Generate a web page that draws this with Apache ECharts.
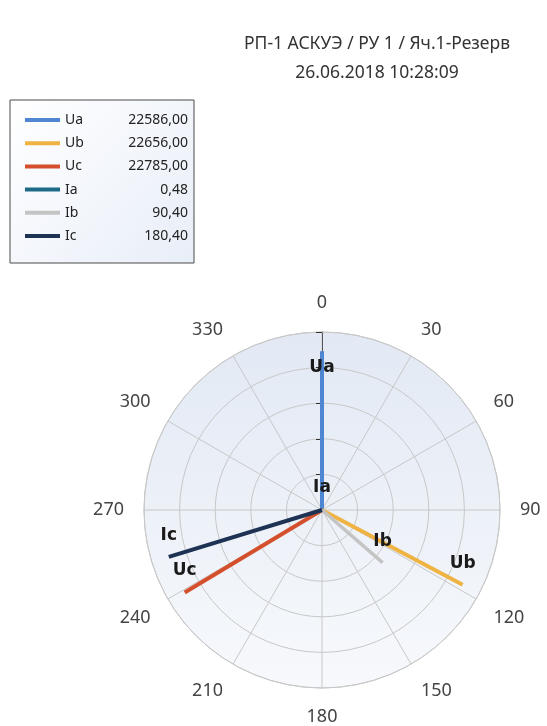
<!DOCTYPE html>
<html>
<head>
<meta charset="utf-8">
<script src="https://cdn.jsdelivr.net/npm/echarts@6/dist/echarts.min.js"></script>
<style>html,body{margin:0;padding:0;background:#fff;}#c{width:547px;height:726px;}</style>
</head>
<body>
<div id="c"></div>
<script>
// ---- data ----
var titleLines = ['РП-1 АСКУЭ / РУ 1 / Яч.1-Резерв', '26.06.2018 10:28:09'];
var names = ['Ua', 'Ub', 'Uc', 'Ia', 'Ib', 'Ic'];
var magnitudes = [22586.00, 22656.00, 22785.00, 0.48, 90.40, 180.40];
var valueLabels = ['22586,00', '22656,00', '22785,00', '0,48', '90,40', '180,40'];
var anglesDeg = [0, 118, 239, 0, 131, 253];
var isVoltage = [true, true, true, false, false, false];
var angleTicks = [0, 30, 60, 90, 120, 150, 180, 210, 240, 270, 300, 330];
var radiusMax = 5;        // rings
var vectorScale = 4.5;    // longest vector length in ring units

// ---- styles ----
var colors = ['#4f86d2', '#efb343', '#d4502c', '#1d6b86', '#c4c4c4', '#1e3354'];
var widths = [4, 4, 4, 4, 3.5, 4];
var labelPos = ['bottom', 'top', 'top', 'top', 'top', 'top'];

var maxU = Math.max.apply(null, magnitudes.filter(function (v, i) { return isVoltage[i]; }));
var maxI = Math.max.apply(null, magnitudes.filter(function (v, i) { return !isVoltage[i]; }));

var cx = 322, cy = 510, R = 178;

var series = names.map(function (n, i) {
  var r = magnitudes[i] / (isVoltage[i] ? maxU : maxI) * vectorScale;
  return {
    name: n,
    type: 'line',
    coordinateSystem: 'polar',
    symbol: 'circle',
    symbolSize: 0.1,
    showSymbol: true,
    color: colors[i],
    lineStyle: { color: colors[i], width: widths[i], cap: 'butt' },
    itemStyle: { color: colors[i] },
    z: 3,
    animation: false,
    data: [
      [0, anglesDeg[i]],
      {
        value: [r, anglesDeg[i]],
        label: {
          show: true,
          formatter: n,
          position: labelPos[i],
          distance: labelPos[i] === 'bottom' ? 8 : 13,
          fontFamily: 'DejaVu Sans',
          fontWeight: 'bold',
          fontSize: 17,
          color: '#1a1a1a'
        }
      }
    ]
  };
});

var chart = echarts.init(document.getElementById('c'), null, { renderer: 'canvas' });
chart.setOption({
  backgroundColor: '#ffffff',
  animation: false,
  graphic: [{
    type: 'circle',
    silent: true,
    z: -10,
    shape: { cx: cx, cy: cy, r: R },
    style: {
      fill: new echarts.graphic.LinearGradient(0, 0, 0, 1, [
        { offset: 0, color: '#e2e9f4' },
        { offset: 1, color: '#f7f9fc' }
      ])
    }
  }],
  title: {
    text: titleLines.join('\n'),
    left: 372,
    top: 25,
    textAlign: 'center',
    textStyle: {
      fontFamily: 'Noto Sans',
      fontWeight: 'normal',
      fontSize: 17.5,
      lineHeight: 29,
      color: '#333333'
    }
  },
  legend: {
    orient: 'vertical',
    left: 10,
    top: 100,
    padding: [13, 6, 20, 15],
    itemGap: 9.2,
    itemWidth: 35,
    itemHeight: 4,
    icon: 'rect',
    selectedMode: false,
    borderColor: '#4a4a4a',
    borderWidth: 1,
    borderRadius: 0,
    backgroundColor: new echarts.graphic.LinearGradient(0, 0, 1, 1, [
      { offset: 0, color: '#ffffff' },
      { offset: 1, color: '#e8eef8' }
    ]),
    data: names,
    formatter: function (n) {
      return '{n|' + n + '}{v|' + valueLabels[names.indexOf(n)] + '}';
    },
    textStyle: {
      fontFamily: 'Noto Sans',
      fontSize: 14,
      color: '#222',
      rich: {
        n: { width: 27, fontFamily: 'Noto Sans', fontSize: 14, lineHeight: 16, color: '#222' },
        v: { width: 96, align: 'right', fontFamily: 'Noto Sans', fontSize: 14, lineHeight: 16, color: '#222' }
      }
    }
  },
  polar: {
    center: [cx, cy],
    radius: R
  },
  angleAxis: {
    type: 'value',
    min: 0,
    max: 360,
    interval: 30,
    startAngle: 90,
    clockwise: true,
    axisLine: { show: true, lineStyle: { color: '#c8c8c8', width: 1 } },
    axisTick: { show: false },
    axisLabel: {
      show: true,
      margin: 20,
      fontFamily: 'Noto Sans',
      fontSize: 18,
      color: '#444',
      formatter: function (v) { return angleTicks.indexOf(v) >= 0 ? String(v) : ''; }
    },
    splitLine: { show: true, lineStyle: { color: '#c8c8c8', width: 1 } },
    splitArea: { show: false }
  },
  radiusAxis: {
    type: 'value',
    min: 0,
    max: radiusMax,
    interval: 1,
    axisLine: { show: true, lineStyle: { color: '#555', width: 1 } },
    axisTick: { show: true, length: 6, lineStyle: { color: '#333', width: 1 } },
    axisLabel: { show: false },
    splitLine: { show: true, lineStyle: { color: '#c8c8c8', width: 1 } },
    splitArea: { show: false }
  },
  series: series
});
</script>
</body>
</html>
